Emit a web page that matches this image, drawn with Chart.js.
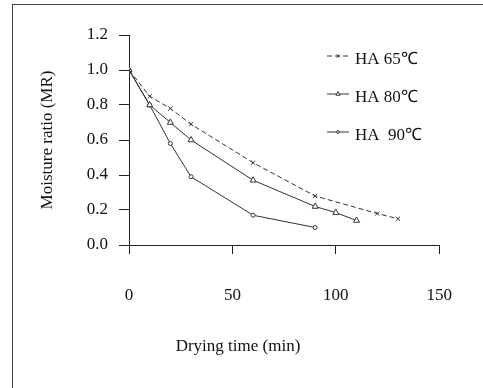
<!DOCTYPE html>
<html>
<head>
<meta charset="utf-8">
<script src="https://cdn.jsdelivr.net/npm/chart.js@4.4.0/dist/chart.umd.min.js"></script>
<style>
    html, body { margin: 0; padding: 0; background: #fff; }
    #wrap { position: relative; width: 483px; height: 388px; overflow: hidden; }
    #frame { position: absolute; left: 12px; top: 4px; width: 600px; height: 500px; border: 1px solid #444; box-sizing: border-box; }
    #chart { position: absolute; left: 0; top: 0; }
</style>
</head>
<body>
<div id="wrap">
    <div id="frame"></div>
    <canvas id="chart" width="483" height="388"></canvas>
</div>
<script>
// Данные
const seriesNames = ['HA 65℃', 'HA 80℃', 'HA  90℃'];
const time65 = [0, 10, 20, 30, 60, 90, 120, 130];
const mr65 = [1.0, 0.85, 0.78, 0.69, 0.47, 0.28, 0.18, 0.15];
const time80 = [0, 10, 20, 30, 60, 90, 100, 110];
const mr80 = [1.0, 0.80, 0.70, 0.60, 0.37, 0.22, 0.185, 0.14];
const time90 = [0, 10, 20, 30, 60, 90];
const mr90 = [1.0, 0.80, 0.58, 0.39, 0.17, 0.10];
const xTicks = [0, 50, 100, 150];
const yTicks = [0, 0.2, 0.4, 0.6, 0.8, 1.0, 1.2];

const FONT = 'Liberation Serif';
const INK = '#222';

function toPoints(xs, ys) {
    return xs.map((x, i) => ({ x: x, y: ys[i] }));
}

// Легенда и подпись оси X рисуются вручную
const legendPlugin = {
    id: 'customLegend',
    afterDraw(chart) {
        const ctx = chart.ctx;
        const rows = [60, 98, 136];
        ctx.save();
        chart.data.datasets.forEach((ds, i) => {
            const y = rows[i];
            const ly = y - 4;
            ctx.strokeStyle = ds.borderColor;
            ctx.lineWidth = 1;
            ctx.setLineDash(ds.borderDash || []);
            ctx.beginPath();
            ctx.moveTo(327, ly);
            ctx.lineTo(349, ly);
            ctx.stroke();
            ctx.setLineDash([]);
            ctx.fillStyle = '#fff';
            Chart.helpers.drawPoint(ctx, {
                pointStyle: ds.pointStyle,
                radius: ds.pointRadius * 0.7,
                borderWidth: 1
            }, 338, ly);
            ctx.fillStyle = '#111';
            ctx.font = '17px "' + FONT + '"';
            ctx.textAlign = 'left';
            ctx.textBaseline = 'middle';
            ctx.fillText(ds.label, 355, y);
        });
        ctx.fillStyle = '#111';
        ctx.font = '17px "' + FONT + '"';
        ctx.textAlign = 'center';
        ctx.textBaseline = 'middle';
        ctx.fillText('Drying time (min)', 238, 347);
        ctx.restore();
    }
};

const ctx = document.getElementById('chart').getContext('2d');
new Chart(ctx, {
    type: 'line',
    data: {
        datasets: [
            {
                label: seriesNames[0],
                data: toPoints(time65, mr65),
                borderColor: '#333',
                borderWidth: 1,
                borderDash: [5, 3],
                pointStyle: 'crossRot',
                pointRadius: 3,
                pointBorderColor: '#333',
                pointBackgroundColor: '#fff',
                pointBorderWidth: 1
            },
            {
                label: seriesNames[1],
                data: toPoints(time80, mr80),
                borderColor: '#333',
                borderWidth: 1,
                pointStyle: 'triangle',
                pointRadius: 3.5,
                pointBorderColor: '#333',
                pointBackgroundColor: '#fff',
                pointBorderWidth: 1
            },
            {
                label: seriesNames[2],
                data: toPoints(time90, mr90),
                borderColor: '#333',
                borderWidth: 1,
                pointStyle: 'circle',
                pointRadius: 2,
                pointBorderColor: '#333',
                pointBackgroundColor: '#fff',
                pointBorderWidth: 1
            }
        ]
    },
    options: {
        responsive: false,
        animation: false,
        layout: { padding: { left: 0, top: 35, right: 30, bottom: 0 } },
        plugins: {
            legend: { display: false },
            tooltip: { enabled: false }
        },
        elements: { line: { tension: 0 } },
        scales: {
            x: {
                type: 'linear',
                min: 0,
                max: 150,
                afterFit: scale => { scale.height = 143; },
                afterBuildTicks: scale => { scale.ticks = xTicks.map(v => ({ value: v })); },
                grid: { display: true, drawOnChartArea: false, drawTicks: true, tickLength: 9, color: INK },
                border: { display: true, color: INK, width: 1 },
                ticks: {
                    color: '#111',
                    padding: 31,
                    maxRotation: 0,
                    font: { family: FONT, size: 17 }
                }
            },
            y: {
                min: 0,
                max: 1.2,
                afterFit: scale => { scale.width = 129; },
                afterBuildTicks: scale => { scale.ticks = yTicks.map(v => ({ value: v })); },
                grid: { display: true, drawOnChartArea: false, drawTicks: true, tickLength: 10, color: INK },
                border: { display: true, color: INK, width: 1 },
                title: {
                    display: true,
                    text: 'Moisture ratio (MR)',
                    color: '#111',
                    padding: { top: 37, bottom: 0 },
                    font: { family: FONT, size: 17 }
                },
                ticks: {
                    color: '#111',
                    padding: 11,
                    font: { family: FONT, size: 17 },
                    callback: v => v.toFixed(1)
                }
            }
        }
    },
    plugins: [legendPlugin]
});
</script>
</body>
</html>
